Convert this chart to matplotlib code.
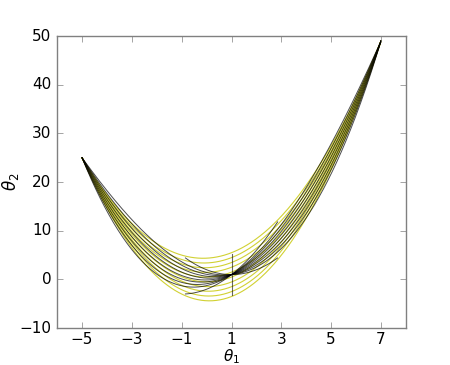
import numpy as np
import matplotlib
matplotlib.use("Agg")
import matplotlib.pyplot as plt

# yellow family: y = 2x + 35 + a (x+5)(x-7), all through (-5,25) and (7,49)
yellow_a = [1.125, 1.097, 1.069, 1.042, 1.014, 0.986, 0.958, 0.931, 0.903, 0.875]
# black family: y = x^2 + e (x+5)(x-7)(x-1)
black_e = [-0.036, -0.025, -0.014, -0.003, 0.008, 0.019, 0.030, 0.041]
# short curves through the minimum (1, 1): y = 1 + b (x-1) + (x-1)^2
short_b = [0.0, 4.0]
short_half = 1.85
vert_y = [-3.2, 5.3]
x_start, x_end = -5, 7

plt.style.use('classic')
plt.rcParams['mathtext.fontset'] = 'dejavusans'
fig = plt.figure(figsize=(4.5, 3.65), dpi=100, facecolor='white')
ax = fig.add_axes([0.127, 0.101, 0.775, 0.80])

x = np.linspace(x_start, x_end, 400)
for a in yellow_a:
    ax.plot(x, 2 * x + 35 + a * (x + 5) * (x - 7), color=(0.82, 0.82, 0.2), lw=0.8)
for e in black_e:
    ax.plot(x, x**2 + e * (x + 5) * (x - 7) * (x - 1), color='k', lw=0.7, alpha=0.7)

xs = np.linspace(1 - short_half, 1 + short_half, 100)
for b in short_b:
    ax.plot(xs, 1 + b * (xs - 1) + (xs - 1)**2, color='k', lw=0.7, alpha=0.7)
ax.plot([1, 1], vert_y, color='k', lw=0.8, alpha=0.6)

ax.set_xlim(-6, 8)
ax.set_ylim(-10, 50)
ax.set_xticks([-5, -3, -1, 1, 3, 5, 7])
ax.set_yticks([-10, 0, 10, 20, 30, 40, 50])
ax.set_xlabel(r'$\theta_1$', fontsize=11)
ax.set_ylabel(r'$\theta_2$', fontsize=12)
ax.xaxis.set_label_coords(0.5, -0.067)
ax.yaxis.set_label_coords(-0.105, 0.5)
ax.tick_params(labelsize=11, color='0.5')
ax.tick_params(axis='x', pad=3)
for s in ax.spines.values():
    s.set_color('0.5')

fig.savefig('out.png', dpi=100, facecolor='white')
